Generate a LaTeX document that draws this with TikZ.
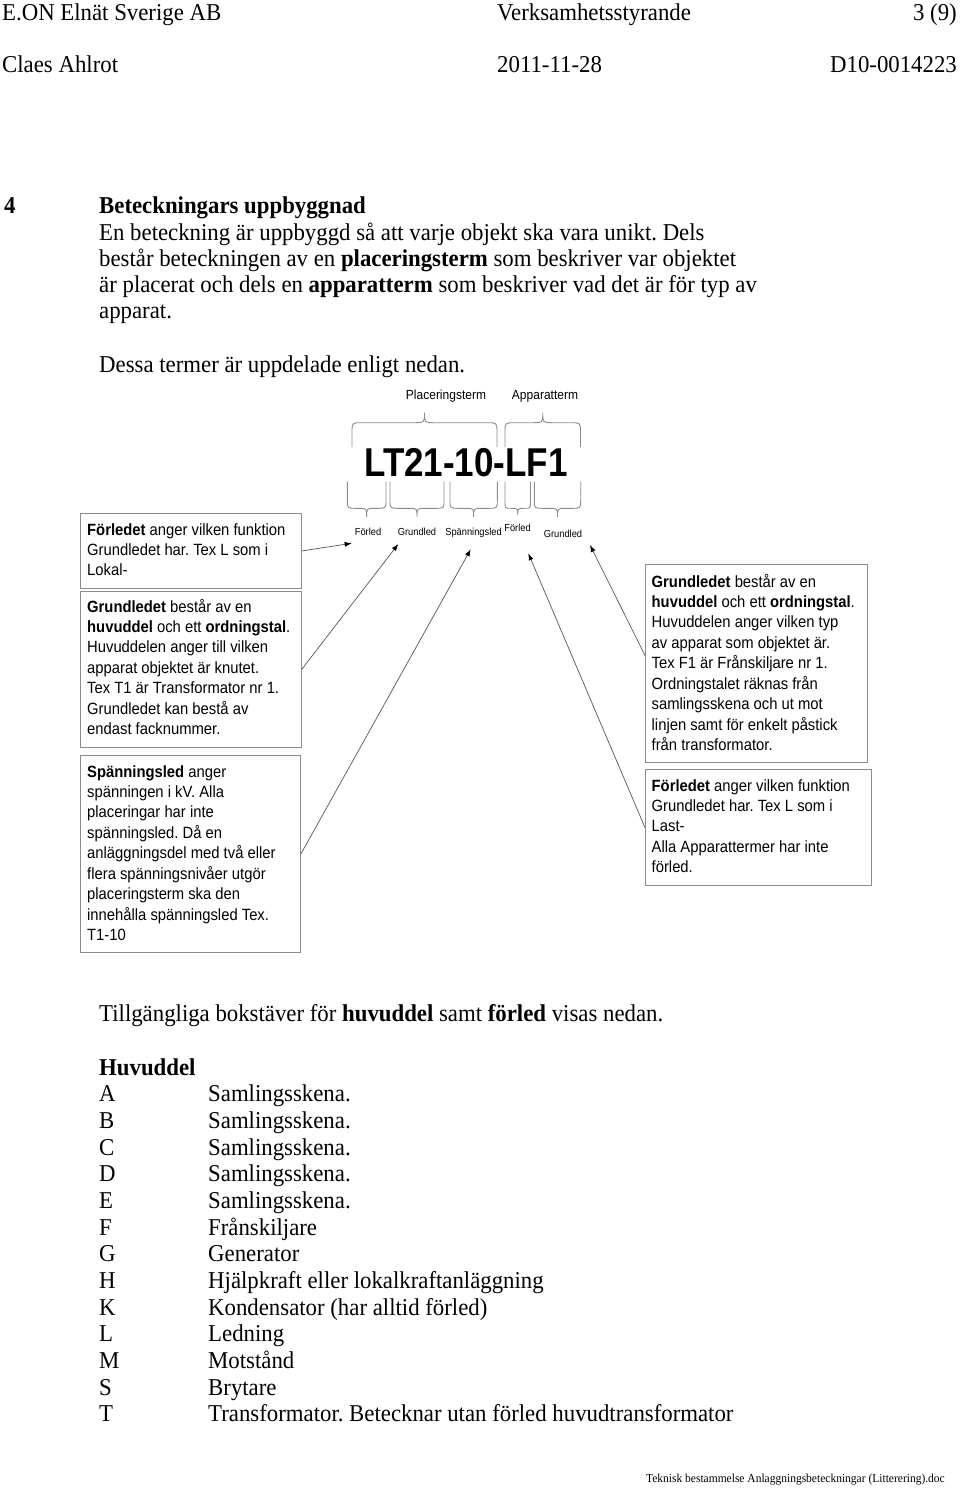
\documentclass[tikz,border=0pt]{standalone}
\usepackage{fontspec}
\setmainfont{Liberation Serif}
\setsansfont{Liberation Sans}
\usepackage{graphicx}
\usetikzlibrary{arrows.meta}
\frenchspacing
\definecolor{boxgray}{HTML}{8C8C8C}
\definecolor{linegray}{HTML}{555555}
\newcommand{\ystr}[2][1.1]{\scalebox{1}[#1]{\begin{tabular}[t]{@{}l@{}}#2\end{tabular}}}
\newcommand{\tstr}[1]{\ystr[1.06]{#1}}
% brace opening downward, tip up: x1 x2 yarm yhoriz r
\newcommand{\bup}[5]{%
 \draw[bracepath] (#1,#3) -- (#1,{#4+#5}) .. controls (#1,#4) .. ({#1+#5},#4)
  -- ({(#1+#2)/2-#5},#4) .. controls ({(#1+#2)/2},#4) .. ({(#1+#2)/2},{#4-#5})
  .. controls ({(#1+#2)/2},#4) .. ({(#1+#2)/2+#5},#4)
  -- ({#2-#5},#4) .. controls (#2,#4) .. (#2,{#4+#5}) -- (#2,#3);}
% brace tip down
\newcommand{\bdown}[5]{%
 \draw[bracepath] (#1,#3) -- (#1,{#4-#5}) .. controls (#1,#4) .. ({#1+#5},#4)
  -- ({(#1+#2)/2-#5},#4) .. controls ({(#1+#2)/2},#4) .. ({(#1+#2)/2},{#4+#5})
  .. controls ({(#1+#2)/2},#4) .. ({(#1+#2)/2+#5},#4)
  -- ({#2-#5},#4) .. controls (#2,#4) .. (#2,{#4-#5}) -- (#2,#3);}
\tikzset{
 hdr/.style={inner sep=0pt, font=\fontsize{22.8}{24.5}\selectfont},
 body/.style={inner sep=0pt, anchor=base west, font=\fontsize{22.8}{24.53}\selectfont},
 listtxt/.style={inner sep=0pt, anchor=base west, font=\fontsize{22.8}{25.16}\selectfont},
 boxframe/.style={draw=boxgray, line width=0.9pt, rectangle, inner sep=0pt, anchor=north west},
 boxtext/.style={inner sep=0pt, anchor=base west, font=\sffamily\fontsize{14.8}{18.6}\selectfont},
 termlbl/.style={inner sep=0pt, anchor=base, font=\sffamily\fontsize{12}{14}\selectfont},
 partlbl/.style={inner sep=0pt, anchor=base, font=\sffamily\fontsize{9.3}{11}\selectfont},
 bigcode/.style={inner sep=0pt, font=\sffamily\bfseries\fontsize{35}{40}\selectfont},
 bracepath/.style={boxgray, line width=0.9pt},
 conn/.style={draw=linegray, line width=0.7pt, -{Latex[length=7pt,width=5pt,color=black]}},
 footer/.style={inner sep=0pt, anchor=base east, font=\fontsize{11.5}{13}\selectfont}
}
\begin{document}
\begin{tikzpicture}[x=1pt,y=-1pt]
\useasboundingbox (0,0) rectangle (960,1492);
\fill[white] (0,0) rectangle (960,1492);

% header
\node[hdr, anchor=base west] (h1) at (2,20) {\tstr{E.ON Elnät Sverige AB}};
\node[hdr, anchor=base west] (h2) at (497,20) {\tstr{Verksamhetsstyrande}};
\node[hdr, anchor=base east] (h3) at (957,20) {\tstr{3 (9)}};
\node[hdr, anchor=base west] (h4) at (2,72.5) {\tstr{Claes Ahlrot}};
\node[hdr, anchor=base west] (h5) at (497,72.5) {\tstr{2011-11-28}};
\node[hdr, anchor=base east] (h6) at (957,72.5) {\tstr{D10-0014223}};

% section heading and text
\node[body] (secnum) at (4,213) {\tstr{\bfseries 4}};
\node[body] (sectitle) at (99,213) {\tstr{\bfseries Beteckningars uppbyggnad}};
\node[body] (para) at (99,240) {\tstr{En beteckning är uppbyggd så att varje objekt ska vara unikt. Dels\\
består beteckningen av en \textbf{placeringsterm} som beskriver var objektet\\
är placerat och dels en \textbf{apparatterm} som beskriver vad det är för typ av\\
apparat.}};
\node[body] (dessa) at (99,372) {\tstr{Dessa termer är uppdelade enligt nedan.}};

% term labels and braces
\node[termlbl] (plac) at (446,399.7) {\ystr{Placeringsterm}};
\node[termlbl] (appt) at (545,399.7) {\ystr{Apparatterm}};
\bup{352}{497}{447}{422.7}{10}
\bup{505}{580.5}{447}{422.7}{10}
\node[bigcode] (code) at (466,462.5) {\scalebox{1}[1.15]{LT21-10-LF1}};
\bdown{347.3}{386}{481.7}{508.3}{8.5}
\bdown{390}{444}{481.7}{508.3}{8.5}
\bdown{450}{497.3}{481.7}{508.3}{8.5}
\bdown{505}{530.5}{481.7}{508.3}{6.5}
\bdown{534.3}{580.7}{481.7}{508.3}{8.5}

\node[partlbl] (pf1) at (368,535.7) {\ystr{Förled}};
\node[partlbl] (pg1) at (417,535.7) {\ystr{Grundled}};
\node[partlbl] (ps1) at (473.5,535.7) {\ystr{Spänningsled}};
\node[partlbl] (pf2) at (517.5,531.2) {\ystr{Förled}};
\node[partlbl] (pg2) at (563,537) {\ystr{Grundled}};

% boxes
\node[boxframe, minimum width=221pt, minimum height=74.4pt] (b1) at (80,513.3) {};
\node[boxtext] (t1txt) at (87,535) {\ystr{\textbf{Förledet} anger vilken funktion\\
Grundledet har. Tex L som i\\
Lokal-}};
\node[boxframe, minimum width=221pt, minimum height=156pt] (b2) at (80,590.7) {};
\node[boxtext] (t2txt) at (87,612) {\ystr{\textbf{Grundledet} består av en\\
\textbf{huvuddel} och ett \textbf{ordningstal}.\\
Huvuddelen anger till vilken\\
apparat objektet är knutet.\\
Tex T1 är Transformator nr 1.\\
Grundledet kan bestå av\\
endast facknummer.}};
\node[boxframe, minimum width=220pt, minimum height=197pt] (b3) at (80,755) {};
\node[boxtext] (t3txt) at (87,777) {\ystr{\textbf{Spänningsled} anger\\
spänningen i kV. Alla\\
placeringar har inte\\
spänningsled. Då en\\
anläggningsdel med två eller\\
flera spänningsnivåer utgör\\
placeringsterm ska den\\
innehålla spänningsled Tex.\\
T1-10}};
\node[boxframe, minimum width=221.7pt, minimum height=197.4pt] (b4) at (645,564.3) {};
\node[boxtext] (t4txt) at (651.5,587) {\ystr{\textbf{Grundledet} består av en\\
\textbf{huvuddel} och ett \textbf{ordningstal}.\\
Huvuddelen anger vilken typ\\
av apparat som objektet är.\\
Tex F1 är Frånskiljare nr 1.\\
Ordningstalet räknas från\\
samlingsskena och ut mot\\
linjen samt för enkelt påstick\\
från transformator.}};
\node[boxframe, minimum width=225.7pt, minimum height=115.7pt] (b5) at (645,769.3) {};
\node[boxtext] (t5txt) at (651.5,791) {\ystr{\textbf{Förledet} anger vilken funktion\\
Grundledet har. Tex L som i\\
Last-\\
Alla Apparattermer har inte\\
förled.}};

% connectors
\coordinate (a1) at (351.7,543.3);
\coordinate (a2) at (398.3,544);
\coordinate (a3) at (470.7,549.3);
\coordinate (a4) at (528.3,553.3);
\coordinate (a5) at (590,545);
\draw[conn] (b1.east) -- (a1);
\draw[conn] (b2.east) -- (a2);
\draw[conn] (b3.east) -- (a3);
\draw[conn] (b5.west) -- (a4);
\draw[conn] ([yshift=8pt]b4.west) -- (a5);

% lower text
\node[body] (tillg) at (99,1021) {\tstr{Tillgängliga bokstäver för \textbf{huvuddel} samt \textbf{förled} visas nedan.}};
\node[listtxt] (lista) at (99,1075) {\tstr{\textbf{Huvuddel}\\
\makebox[109pt][l]{A}Samlingsskena.\\
\makebox[109pt][l]{B}Samlingsskena.\\
\makebox[109pt][l]{C}Samlingsskena.\\
\makebox[109pt][l]{D}Samlingsskena.\\
\makebox[109pt][l]{E}Samlingsskena.\\
\makebox[109pt][l]{F}Frånskiljare\\
\makebox[109pt][l]{G}Generator\\
\makebox[109pt][l]{H}Hjälpkraft eller lokalkraftanläggning\\
\makebox[109pt][l]{K}Kondensator (har alltid förled)\\
\makebox[109pt][l]{L}Ledning\\
\makebox[109pt][l]{M}Motstånd\\
\makebox[109pt][l]{S}Brytare\\
\makebox[109pt][l]{T}Transformator. Betecknar utan förled huvudtransformator}};

\node[footer] (foot) at (945,1482) {\tstr{Teknisk bestammelse Anlaggningsbeteckningar (Litterering).doc}};
\end{tikzpicture}
\end{document}
